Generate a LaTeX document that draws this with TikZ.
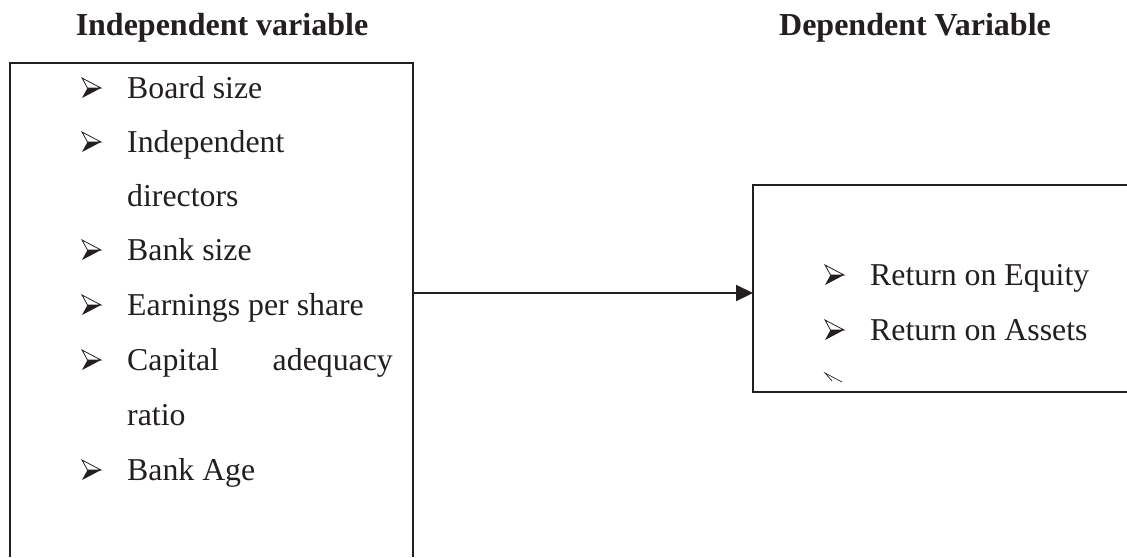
\documentclass[tikz,border=0pt]{standalone}
\usepackage{fontspec}
\setmainfont{Liberation Serif}
\usetikzlibrary{arrows.meta}
\definecolor{ink}{HTML}{231F20}
\tikzset{
  frame/.style={draw=ink, line width=2.1pt},
  item/.style={anchor=base west, inner sep=0pt, text=ink, font=\fontsize{31.8}{38}\selectfont},
  head/.style={anchor=base, inner sep=0pt, text=ink, font=\fontsize{32}{38}\selectfont\bfseries},
  link/.style={draw=ink, line width=2.1pt, -{Triangle[length=17pt,width=16pt]}},
}
% 3-D arrowhead bullet, #1 = left x, #2 = text baseline
\newcommand{\arrowbullet}[2]{%
  \begin{scope}[shift={(#1,#2-10)}]
    \fill[ink] (5.5,0) -- (19,0) -- (0,10) -- cycle;
    \draw[ink, line width=0.8pt, line join=miter] (0,-10) -- (19,0) -- (5.5,0) -- cycle;
  \end{scope}}
\begin{document}
\begin{tikzpicture}[x=1pt,y=-1pt]
  \useasboundingbox (0,0) rectangle (1127,557);
  \fill[white] (0,0) rectangle (1127,557);

  % headings
  \node[head] (hind) at (222,35) {Independent variable};
  \node[head] (hdep) at (915,35) {Dependent Variable};

  % left frame, open at the bottom
  \draw[frame] (10,557) -- (10,63) -- (413,63) -- (413,557);
  % right frame, open at the right
  \draw[frame] (1127,185) -- (753,185) -- (753,392) -- (1127,392);

  % independent variables
  \arrowbullet{82}{98}
  \node[item] (i1) at (127,98) {Board size};
  \arrowbullet{82}{152}
  \node[item] (i2) at (127,152) {Independent};
  \node[item] (i2b) at (127,206) {directors};
  \arrowbullet{82}{260}
  \node[item] (i3) at (127,260) {Bank size};
  \arrowbullet{82}{315}
  \node[item] (i4) at (127,315) {Earnings per share};
  \arrowbullet{82}{370}
  \node[item] (i5) at (127,370) {Capital};
  \node[item, anchor=base east] (i5b) at (393,370) {adequacy};
  \node[item] (i5c) at (127,425) {ratio};
  \arrowbullet{82}{480}
  \node[item] (i6) at (127,480) {Bank Age};

  % dependent variables
  \arrowbullet{825}{285}
  \node[item] (d1) at (870,285) {Return on Equity};
  \arrowbullet{825}{340}
  \node[item] (d2) at (870,340) {Return on Assets};
  % leftover stroke of a third bullet
  \draw[ink, line width=0.7pt] (842,382) -- (825,373) -- (832,381);

  % connector between the two frames
  \coordinate (indR) at (413,293);
  \coordinate (depL) at (753,293);
  \draw[link] (indR) -- (depL);
\end{tikzpicture}
\end{document}
